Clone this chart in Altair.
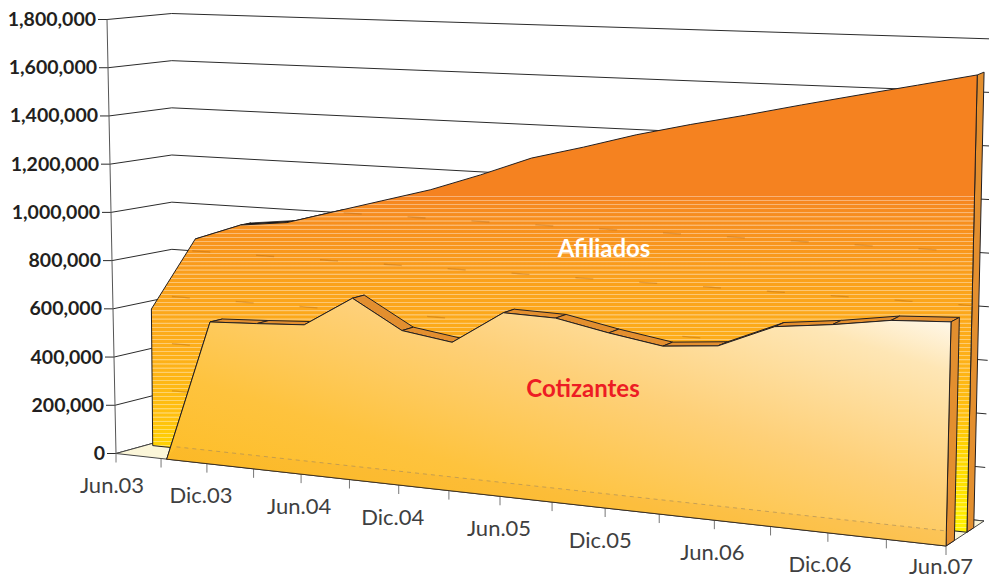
import altair as alt
import pandas as pd

categories = ["Jun.03","Sep.03","Dic.03","Mar.04","Jun.04","Sep.04","Dic.04","Mar.05","Jun.05",
              "Sep.05","Dic.05","Mar.06","Jun.06","Sep.06","Dic.06","Mar.07","Jun.07"]
afiliados = [573000,880000,951000,974000,1031000,1088000,1145000,1216000,1294000,
             1348000,1407000,1457000,1503000,1552000,1599000,1645000,1692000]
cotizantes = [0,0,581000,591000,603000,726000,614000,585000,718000,
              714000,674000,641000,660000,750000,775000,808000,820000]
y_ticks = [0,200000,400000,600000,800000,1000000,1200000,1400000,1600000,1800000]
x_labels = {0:"Jun.03",2:"Dic.03",4:"Jun.04",6:"Dic.04",8:"Jun.05",10:"Dic.05",12:"Jun.06",14:"Dic.06",16:"Jun.07"}
x_label_dx = {0:-4,2:-6,4:-2,6:-6,8:-1,10:-5,12:-2,14:-8,16:-5}
x_label_dy = {0:32.5,2:32.5,4:32.5,6:32.5,8:32.5,10:32.5,12:32.5,14:32.5,16:21}

# --- perspective box: floor and ceiling corners of the 3-D plot (page pixels)
VMAX = 1800000.0
FL, FR, BR, BL = (116,453.5), (946,546), (984,521), (172,438)
TFL, TFR, TBR, TBL = (107,19.5), (957,54), (995,39), (171.7,13.5)
G = -0.139
SHIFT = 0.0072
D_C = (0.0, 0.22)
D_A = (0.55, 0.73)

def lerp(a, b, t):
    return (a[0]+(b[0]-a[0])*t, a[1]+(b[1]-a[1])*t)

def warp(u):
    return u*(1+G)/(1+G*u)

def proj_s(s, d, v):
    base = lerp(lerp(FL,FR,s), lerp(BL,BR,s), d)
    top = lerp(lerp(TFL,TFR,s), lerp(TBL,TBR,s), d)
    return lerp(base, top, v/VMAX)

def pt(k, d, v):
    s = warp(k/16)
    s = s + SHIFT*(1-s)
    return proj_s(s, d, v)

# --- scales map page pixels straight to the view
W, H = 981, 572
xs = alt.Scale(domain=[8,8+W], range=[0,W], nice=False, zero=False)
ys = alt.Scale(domain=[8+H,8], range=[H,0], nice=False, zero=False)
X = alt.X("x:Q", scale=xs, axis=None)
Y = alt.Y("y:Q", scale=ys, axis=None)

def poly(points, fill, stroke="#231f20", sw=1.0, opacity=None):
    df = pd.DataFrame({"x":[p[0] for p in points],"y":[p[1] for p in points],"i":list(range(len(points)))})
    kw = dict(fill=fill, stroke=stroke, strokeWidth=sw, interpolate="linear-closed", strokeJoin="round")
    if opacity is not None:
        kw["opacity"] = opacity
    return alt.Chart(df).mark_line(**kw).encode(x=X, y=Y, order="i:Q")

def polyline(points, stroke="#231f20", sw=1.0, **kw):
    df = pd.DataFrame({"x":[p[0] for p in points],"y":[p[1] for p in points],"i":list(range(len(points)))})
    return alt.Chart(df).mark_line(stroke=stroke, strokeWidth=sw, **kw).encode(x=X, y=Y, order="i:Q")

def hexmix(c1, c2, t):
    a = [int(c1[i:i+2],16) for i in (1,3,5)]
    b = [int(c2[i:i+2],16) for i in (1,3,5)]
    return "#%02x%02x%02x" % tuple(round(a[i]+(b[i]-a[i])*t) for i in range(3))

ramp = [(75,"#f58220"),(197,"#f58220"),(205,"#f68a20"),(290,"#fba31b"),(350,"#fdae1a"),
        (420,"#ffc10e"),(450,"#ffd400"),(533,"#fff200")]
def ramp_color(y):
    for (y0,c0),(y1,c1) in zip(ramp, ramp[1:]):
        if y <= y1:
            return hexmix(c0,c1,(y-y0)/(y1-y0))
    return ramp[-1][1]

Y0, Y1 = 75.0, 534.0
stops = [alt.GradientStop(offset=0, color=ramp[0][1])]
off = lambda y: max(0,min(1,(y-Y0)/(Y1-Y0)))
yy = 197.0
while yy < 530:
    c = ramp_color(yy)
    light = hexmix(c,"#ffffff",0.38)
    stops += [alt.GradientStop(offset=off(yy-0.7), color=c),
              alt.GradientStop(offset=off(yy-0.4), color=light),
              alt.GradientStop(offset=off(yy+0.4), color=light),
              alt.GradientStop(offset=off(yy+0.7), color=c)]
    yy += 4.1
stops.append(alt.GradientStop(offset=1, color=ramp[-1][1]))
afil_fill = alt.Gradient(gradient="linear", x1=0, x2=0, y1=0, y2=1, stops=stops)

coti_fill = alt.Gradient(gradient="linear", x1=0, y1=1, x2=1, y2=0, stops=[
    alt.GradientStop(offset=0, color="#fdb913"),
    alt.GradientStop(offset=0.35, color="#fec33e"),
    alt.GradientStop(offset=0.6, color="#fed078"),
    alt.GradientStop(offset=0.85, color="#fee6b5"),
    alt.GradientStop(offset=1, color="#ffffff"),
])

SIDE = "#e38f2f"
layers = []

# gridlines on the walls
for v in y_ticks:
    a = proj_s(0,0,v); b = proj_s(0,1,v); c = proj_s(1,1,v)
    tick = (a[0]-9, a[1])
    layers.append(polyline([tick,a,b,c], stroke="#2b2b2b", sw=1.0))
# vertical axis
layers.append(polyline([proj_s(0,0,0), proj_s(0,0,VMAX)], stroke="#555555", sw=1.0))

# floor
layers.append(poly([FL,FR,BR,BL], "#fbf6d9", stroke="#444444", sw=1.0))

# x ticks
for k in range(17):
    p = proj_s(warp(k/16),0,0)
    layers.append(polyline([p,(p[0],p[1]+9)], stroke="#777777", sw=1.0))

# Afiliados: top ribbon (only its early stretch shows), end side, front face, smears
for k in range(1,4):
    layers.append(poly([pt(k,D_A[0],afiliados[k]),pt(k+1,D_A[0],afiliados[k+1]),
                        pt(k+1,D_A[1],afiliados[k+1]),pt(k,D_A[1],afiliados[k])],"#111111",sw=0.8))
layers.append(poly([pt(16,D_A[0],0),pt(16,D_A[1],0),pt(16,D_A[1],afiliados[16]),pt(16,D_A[0],afiliados[16])],SIDE))
face = [pt(k,D_A[0],afiliados[k]) for k in range(17)] + [pt(16,D_A[0],0), pt(0,D_A[0],0)]
layers.append(poly(face, afil_fill))

top_edge = [pt(k,D_A[0],afiliados[k]) for k in range(17)]
def top_y(x):
    for a,b in zip(top_edge, top_edge[1:]):
        if x <= b[0]:
            return a[1]+(b[1]-a[1])*(x-a[0])/(b[0]-a[0])
    return top_edge[-1][1]
left_x = face[-1][0]
for v in y_ticks[1:6]:
    seg = []
    for i in range(201):
        p = proj_s(i/200,1,v)
        if left_x+2 < p[0] < top_edge[-1][0]-3 and p[1] > top_y(p[0])+3 and p[1] > 198:
            seg.append(p)
    if len(seg) > 1:
        layers.append(polyline(seg, stroke="#b5660f", sw=1.3, opacity=0.4, strokeDash=[18,46]))

# Cotizantes: top ribbons, end side, front face, floor band
for k in range(1,16):
    layers.append(poly([pt(k,D_C[0],cotizantes[k]),pt(k+1,D_C[0],cotizantes[k+1]),
                        pt(k+1,D_C[1],cotizantes[k+1]),pt(k,D_C[1],cotizantes[k])],SIDE))
layers.append(poly([pt(16,D_C[0],0),pt(16,D_C[1],0),pt(16,D_C[1],cotizantes[16]),pt(16,D_C[0],cotizantes[16])],SIDE))
cface = [pt(k,D_C[0],cotizantes[k]) for k in range(1,17)] + [pt(16,D_C[0],0)]
layers.append(poly(cface, coti_fill))
band_v = 55000
band = [pt(1,D_C[0],0), pt(16,D_C[0],0), pt(16,D_C[0],band_v), pt(1.22,D_C[0],band_v)]
layers.append(poly(band, "#f7a823", stroke="transparent", sw=0, opacity=0.22))
layers.append(polyline([pt(1.22,D_C[0],band_v), pt(16,D_C[0],band_v)], stroke="#a58a5c", sw=0.8, strokeDash=[4,4], opacity=0.8))

# text
def text(rows, **kw):
    return alt.Chart(pd.DataFrame(rows)).mark_text(**kw).encode(x=X, y=Y, text="t:N")

ylab = []
for v in y_ticks:
    p = proj_s(0,0,v)
    ylab.append({"x":p[0]-11,"y":p[1]+0.5,"t":f"{v:,}"})
layers.append(text(ylab, align="right", baseline="middle", font="Lato", fontWeight="bold", fontSize=19.5, color="#231f20"))

xlab = []
for k,t in x_labels.items():
    p = proj_s(warp(k/16),0,0)
    xlab.append({"x":p[0]+x_label_dx[k],"y":p[1]+x_label_dy[k],"t":t})
layers.append(text(xlab, align="center", baseline="middle", font="Lato", fontSize=22, color="#3f3f41"))

layers.append(text([{"x":604,"y":250,"t":"Afiliados"}], align="center", baseline="middle", font="Lato", fontWeight="bold", fontSize=24, color="#ffffff"))
layers.append(text([{"x":583,"y":390,"t":"Cotizantes"}], align="center", baseline="middle", font="Lato", fontWeight="bold", fontSize=24, color="#ed1c24"))

chart = alt.layer(*layers).properties(width=W, height=H, padding=0, autosize=alt.AutoSizeParams(type="none")).configure_view(stroke=None)

chart.save("out.html", embed_options={"renderer": "svg", "actions": False})
